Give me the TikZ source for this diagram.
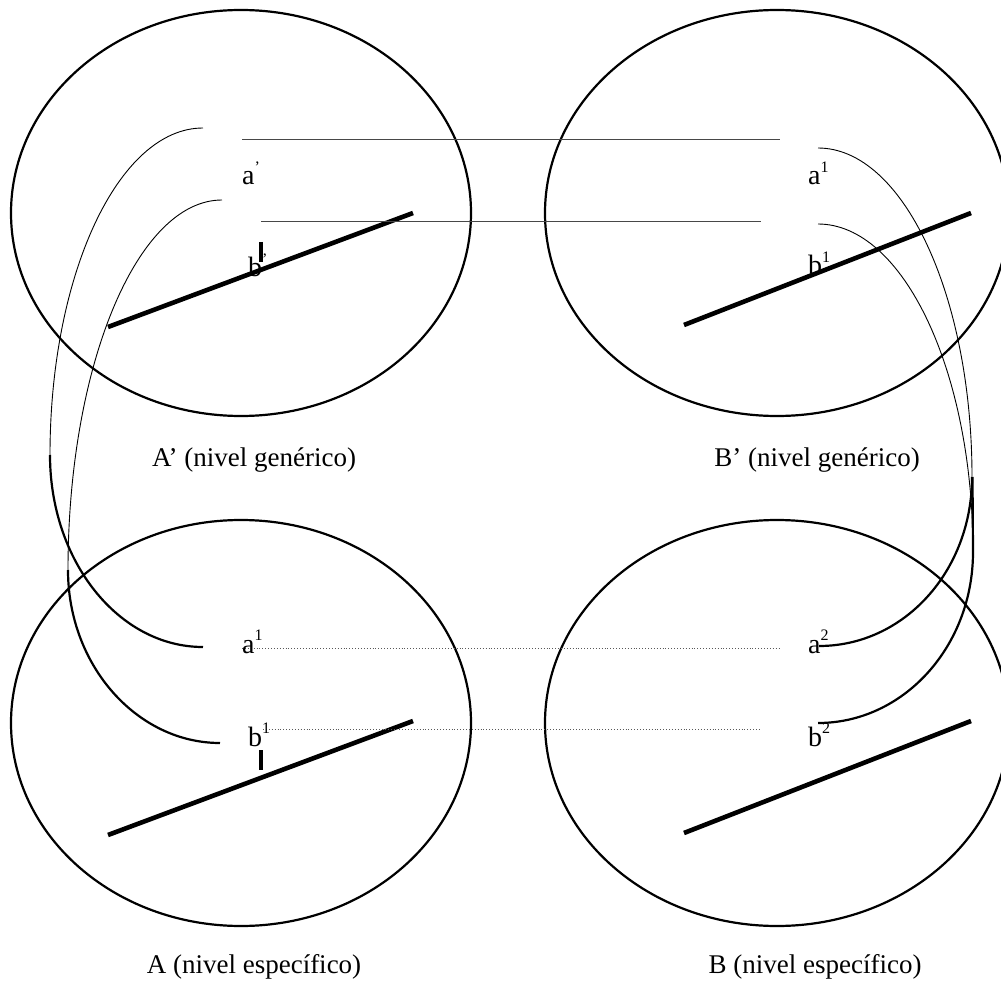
\documentclass[tikz,border=0pt]{standalone}
\usepackage{fontspec}
\setmainfont{Liberation Serif}
\newcommand{\mysup}[1]{\raisebox{12.5pt}{\fontsize{16}{16}\selectfont #1}}
\tikzset{
  ell/.style={line width=2.2pt},
  thinarc/.style={line width=0.9pt},
  thickarc/.style={line width=2.2pt},
  bar/.style={line width=4.6pt},
  tickbar/.style={line width=3.2pt},
  link/.style={line width=1pt, draw=black!72},
  dotlink/.style={line width=0.9pt, dotted, draw=black!65},
  lbl/.style={font=\fontsize{28}{32}\selectfont, inner sep=0pt, anchor=base west},
  capt/.style={font=\fontsize{27}{31}\selectfont, inner sep=0pt}
}
\begin{document}
\begin{tikzpicture}[x=1pt,y=-1pt]
\useasboundingbox (0,0) rectangle (1001,984);

% ellipses
\draw[ell] (241,213) ellipse [x radius=230pt, y radius=203pt];
\draw[ell] (777,213) ellipse [x radius=232pt, y radius=203pt];
\draw[ell] (241,723) ellipse [x radius=230pt, y radius=203pt];
\draw[ell] (777,723) ellipse [x radius=232pt, y radius=203pt];

% thick bars
\coordinate (tl1) at (108,327); \coordinate (tl2) at (413,213);
\coordinate (tr1) at (684,325); \coordinate (tr2) at (971,213);
\coordinate (bl1) at (108,835); \coordinate (bl2) at (413,721);
\coordinate (br1) at (684,833); \coordinate (br2) at (971,721);
\draw[bar] (tl1) -- (tl2);
\draw[bar] (tr1) -- (tr2);
\draw[bar] (bl1) -- (bl2);
\draw[bar] (br1) -- (br2);

% ticks
\coordinate (tk1a) at (261,242); \coordinate (tk1b) at (261,262);
\coordinate (tk2a) at (261,750); \coordinate (tk2b) at (261,770);
\draw[tickbar] (tk1a) -- (tk1b);
\draw[tickbar] (tk2a) -- (tk2b);

% horizontal links
\coordinate (la1) at (242,140); \coordinate (la2) at (780,140);
\coordinate (lb1) at (261,222); \coordinate (lb2) at (761,222);
\coordinate (da1) at (242,648); \coordinate (da2) at (779,648);
\coordinate (db1) at (263,729); \coordinate (db2) at (761,729);
\draw[link] (la1) -- (la2);
\draw[link] (lb1) -- (lb2);
\draw[dotlink] (da1) -- (da2);
\draw[dotlink] (db1) -- (db2);

% left arcs
\coordinate (aLs) at (203,128); \coordinate (aLm) at (50,455); \coordinate (aLe) at (203,647);
\coordinate (bLs) at (222,200); \coordinate (bLm) at (68,570); \coordinate (bLe) at (220,743);
\draw[thinarc] (aLs) .. controls +(-84.5,0) and +(0,-180.5) .. (aLm);
\draw[thickarc] (aLm) .. controls +(0,106) and +(-84.5,0) .. (aLe);
\draw[thinarc] (bLs) .. controls +(-85,0) and +(0,-204) .. (bLm);
\draw[thickarc] (bLm) .. controls +(0,95.5) and +(-83,0) .. (bLe);

% right arcs
\coordinate (aRs) at (818,148); \coordinate (aRm) at (972,477); \coordinate (aRe) at (819,646);
\coordinate (bRs) at (818,224); \coordinate (bRk) at (972.5,477); \coordinate (bRm) at (973,552); \coordinate (bRe) at (818,723);
\draw[thinarc] (aRs) .. controls +(85,0) and +(0,-181.6) .. (aRm);
\draw[thickarc] (aRm) .. controls +(0,94) and +(85,0) .. (aRe);
\draw[thinarc] (bRs) .. controls +(85,0) and +(0,-181) .. (bRm);
\draw[thickarc] (bRk) -- (bRm) .. controls +(0,94.5) and +(85.5,0) .. (bRe);

% point labels
\node[lbl] (aTL) at (242,185) {a\mysup{’}};
\node[lbl] (bTL) at (248,277) {b\mysup{’}};
\node[lbl] (aTR) at (808,185) {a\mysup{1}};
\node[lbl] (bTR) at (808,275) {b\mysup{1}};
\node[lbl] (aBL) at (242,653) {a\mysup{1}};
\node[lbl] (bBL) at (248,746) {b\mysup{1}};
\node[lbl] (aBR) at (808,653) {a\mysup{2}};
\node[lbl] (bBR) at (808,746) {b\mysup{2}};

% captions
\node[capt, anchor=base west] (capAp) at (152,466) {A’ (nivel genérico)};
\node[capt, anchor=base east] (capBp) at (920,466) {B’ (nivel genérico)};
\node[capt, anchor=base] (capA) at (254,973) {A (nivel específico)};
\node[capt, anchor=base] (capB) at (815,973) {B (nivel específico)};
\end{tikzpicture}
\end{document}
